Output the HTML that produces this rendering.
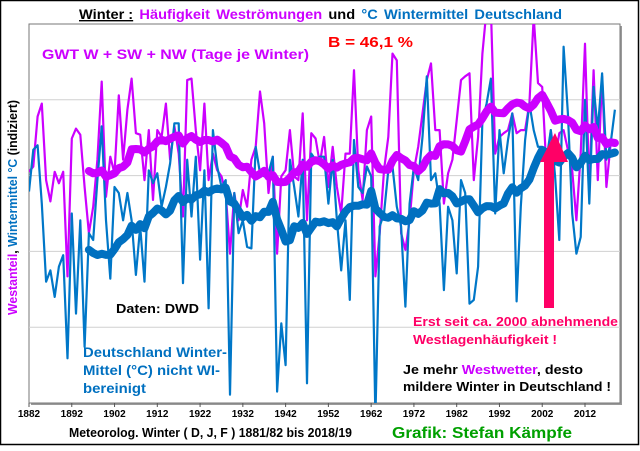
<!DOCTYPE html>
<html><head><meta charset="utf-8">
<style>
html,body{margin:0;padding:0;background:#fff;}
body{width:640px;height:446px;overflow:hidden;font-family:"Liberation Sans",Arial,sans-serif;}
svg text{font-family:"Liberation Sans",Arial,sans-serif;font-weight:bold;}
</style></head>
<body>
<svg id="chart" width="640" height="446" viewBox="0 0 640 446">
<rect x="0.5" y="0.5" width="638" height="444" fill="#fff" stroke="#000" stroke-width="1.5"/>
<text x="79" y="19" font-size="14" textLength="483" lengthAdjust="spacingAndGlyphs"><tspan fill="#000" text-decoration="underline">Winter :</tspan><tspan fill="#CC00FF" dx="6">Häufigkeit</tspan><tspan fill="#CC00FF" dx="6">Weströmungen</tspan><tspan fill="#000" dx="6">und</tspan><tspan fill="#0070C0" dx="6">°C</tspan><tspan fill="#0070C0" dx="6">Wintermittel</tspan><tspan fill="#0070C0" dx="6">Deutschland</tspan></text>
<rect x="31" y="26" width="591" height="379" fill="#9a9a9a"/>
<rect x="29" y="24" width="591" height="379" fill="#fff" stroke="#777" stroke-width="1"/>
<g id="grid"></g>
<g id="xaxis"></g>
<defs><clipPath id="pc"><rect x="29" y="24" width="591" height="379"/></clipPath></defs>
<g id="series" clip-path="url(#pc)"></g>
<text transform="translate(17,315) rotate(-90)" font-size="12.5" textLength="215" lengthAdjust="spacingAndGlyphs"><tspan fill="#CC00FF">Westanteil</tspan><tspan fill="#000">, </tspan><tspan fill="#0070C0">Wintermittel °C</tspan><tspan fill="#000"> (indiziert)</tspan></text>
<text x="42" y="59" font-size="13.5" fill="#CC00FF" textLength="267" lengthAdjust="spacingAndGlyphs">GWT W + SW + NW (Tage je Winter)</text>
<text x="328" y="47" font-size="14.5" fill="#FF0000" textLength="85" lengthAdjust="spacingAndGlyphs">B = 46,1 %</text>
<text x="116" y="313" font-size="13" fill="#000" textLength="83" lengthAdjust="spacingAndGlyphs">Daten: DWD</text>
<g font-size="13.5" fill="#0070C0">
<text x="83" y="357" textLength="144" lengthAdjust="spacingAndGlyphs">Deutschland Winter-</text>
<text x="83" y="375" textLength="137" lengthAdjust="spacingAndGlyphs">Mittel (°C) nicht WI-</text>
<text x="83" y="393" textLength="63" lengthAdjust="spacingAndGlyphs">bereinigt</text>
</g>
<g font-size="13" fill="#FF0066">
<text x="413" y="326" textLength="205" lengthAdjust="spacingAndGlyphs">Erst seit ca. 2000 abnehmende</text>
<text x="413" y="344" textLength="144" lengthAdjust="spacingAndGlyphs">Westlagenhäufigkeit !</text>
</g>
<g font-size="13" fill="#000">
<text x="403" y="374" textLength="180" lengthAdjust="spacingAndGlyphs">Je mehr <tspan fill="#CC00FF">Westwetter</tspan>, desto</text>
<text x="403" y="391" textLength="208" lengthAdjust="spacingAndGlyphs">mildere Winter in Deutschland !</text>
</g>
<rect x="544" y="158" width="10" height="150" fill="#FF0066"/>
<polygon points="540,162 568,162 555,133" fill="#FF0066"/>
<text x="69" y="437" font-size="12.5" fill="#000" textLength="283" lengthAdjust="spacingAndGlyphs">Meteorolog.  Winter ( D, J, F ) 1881/82 bis 2018/19</text>
<text x="392" y="438" font-size="16" fill="#00A000" textLength="180" lengthAdjust="spacingAndGlyphs">Grafik: Stefan Kämpfe</text>
</svg>
<script>
const startYear = 1882;
const tickYears = [1882,1892,1902,1912,1922,1932,1942,1952,1962,1972,1982,1992,2002,2012];
const gridValues = [10,20,30,40];
const westDays = [30.5,31.2,37.8,39.5,29.4,26.6,30.5,29.0,30.5,16.7,34.9,36.2,35.4,28.5,22.4,25.9,32.1,42.4,27.2,32.5,
30.3,40.6,32.1,38.7,42.8,35.6,35.4,29.4,36.0,26.8,36.0,35.1,39.5,32.1,36.5,32.9,24.6,42.6,42.8,36.0,
30.7,39.5,29.4,32.9,30.7,29.9,27.7,19.7,27.7,24.1,28.1,25.9,32.1,33.8,41.1,36.9,27.7,32.5,19.7,29.9,
30.7,36.0,29.9,29.4,38.2,24.1,35.6,34.9,31.6,35.1,28.5,33.8,28.5,25.0,32.9,32.9,43.9,30.7,26.8,36.0,
37.8,16.7,22.4,30.7,35.1,46.1,45.2,22.4,20.2,24.1,30.7,33.8,38.2,42.6,44.8,36.0,36.0,26.3,30.3,32.1,
37.3,42.6,43.1,43.5,29.4,35.1,46.1,52.0,52.0,32.9,35.1,35.6,36.0,38.2,35.6,36.0,36.0,39.5,51.0,42.2,
41.7,30.7,36.0,32.1,35.6,36.0,33.4,30.7,24.1,32.9,47.4,28.5,43.9,29.4,43.1,28.5,34.3,34.7];
const winterTemp = [27.9,33.4,34.0,26.3,16.0,17.5,14.0,18.0,19.5,5.9,25.0,11.8,24.1,7.4,22.4,21.5,29.4,36.5,24.1,16.4,
28.5,27.7,24.1,27.7,24.1,16.9,23.3,16.0,30.7,29.0,30.3,25.9,28.5,31.6,36.9,36.9,15.8,32.1,24.6,32.5,
18.9,30.7,12.5,36.0,31.2,28.5,29.4,1.1,27.7,22.4,24.1,20.6,20.4,33.8,30.3,29.9,30.3,32.5,1.5,10.5,
5.0,32.1,28.5,24.6,32.1,2.6,32.9,32.1,32.5,32.5,26.3,32.1,24.1,17.5,24.1,13.6,34.7,28.5,27.7,31.2,
29.9,-2.0,23.3,25.0,30.7,31.2,25.9,23.3,12.7,26.3,31.2,29.4,35.1,43.1,29.4,30.3,26.3,14.9,25.9,24.1,
17.1,29.4,27.7,13.1,13.6,18.0,37.3,39.5,42.8,25.0,36.0,30.3,34.7,38.2,13.4,25.9,34.7,39.5,36.0,33.8,
33.8,32.1,36.0,29.9,21.5,47.0,38.2,25.0,19.7,21.9,40.0,26.3,41.7,36.0,43.5,32.1,34.3,38.7];
const smoothWindow = 15;

const NS = "http://www.w3.org/2000/svg";
const X0 = 29, PXY = 4.2769, YB = 403, PXV = 7.58;
function xScale(year){ return X0 + (year - startYear) * PXY; }
function yScale(v){ return YB - v * PXV; }
function mk(tag, attrs, parent){ const e = document.createElementNS(NS, tag); for (const k in attrs) e.setAttribute(k, attrs[k]); parent.appendChild(e); return e; }

const grid = document.getElementById('grid');
gridValues.forEach(v => {
  const l = mk('line', {x1:29, x2:620, y1:yScale(v), y2:yScale(v), stroke:'#d0d0d0', 'stroke-width':1}, grid);
  
  
});
const xa = document.getElementById('xaxis');
tickYears.forEach(y => {
  const x = xScale(y);
  const t = mk('line', {x1:x, x2:x, y1:403, y2:407, stroke:'#555', 'stroke-width':1}, xa);
  
  
  const lb = mk('text', {x:x, y:417, 'font-size':10, 'text-anchor':'middle', fill:'#000'}, xa);
  lb.textContent = y;
  
  
});

function pathFor(arr, offset){
  return arr.map((v,i) => (i ? 'L' : 'M') + xScale(startYear + i + offset).toFixed(1) + ',' + yScale(v).toFixed(1)).join(' ');
}
function smooth(arr){
  const out = [];
  for (let i = smoothWindow - 1; i < arr.length; i++){
    let s = 0; for (let j = i - smoothWindow + 1; j <= i; j++) s += arr[j];
    out.push(s / smoothWindow);
  }
  return out;
}
const sg = document.getElementById('series');
const p1 = mk('path', {d:pathFor(westDays,0), fill:'none', stroke:'#CC00FF', 'stroke-width':2.2, 'stroke-linejoin':'round'}, sg);


const p2 = mk('path', {d:pathFor(winterTemp,0), fill:'none', stroke:'#0077C8', 'stroke-width':2.2, 'stroke-linejoin':'round'}, sg);


const p3 = mk('path', {d:pathFor(smooth(westDays), smoothWindow-1), fill:'none', stroke:'#CC00FF', 'stroke-width':8, 'stroke-linejoin':'round', 'stroke-linecap':'round'}, sg);


const p4 = mk('path', {d:pathFor(smooth(winterTemp), smoothWindow-1), fill:'none', stroke:'#0070C0', 'stroke-width':8, 'stroke-linejoin':'round', 'stroke-linecap':'round'}, sg);


</script>
</body></html>
